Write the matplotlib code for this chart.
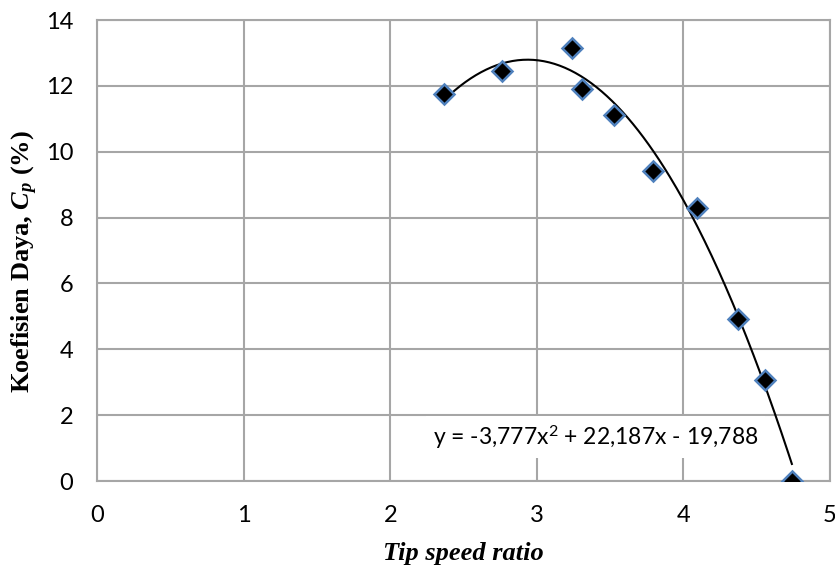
import matplotlib
matplotlib.use("Agg")
import matplotlib.pyplot as plt
import numpy as np

plt.rcParams['font.family'] = ['Lato', 'DejaVu Sans']
plt.rcParams['mathtext.fontset'] = 'custom'
plt.rcParams['mathtext.bfit'] = 'Liberation Serif:bold:italic'
plt.rcParams['mathtext.it'] = 'Liberation Serif:italic'
plt.rcParams['mathtext.rm'] = 'Lato'

# data
tsr = [2.37, 2.76, 3.24, 3.31, 3.53, 3.79, 4.09, 4.37, 4.56, 4.74]
cp = [11.75, 12.45, 13.15, 11.92, 11.12, 9.40, 8.30, 4.93, 3.08, 0.0]
# trendline coefficients as printed on the chart (a, b, c)
trend = [-3.777, 22.187, -19.788]

xticks = [0, 1, 2, 3, 4, 5]
yticks = [0, 2, 4, 6, 8, 10, 12, 14]

grid_col = '#A6A6A6'

fig = plt.figure(figsize=(8.35, 5.70), dpi=100)
ax = fig.add_axes([0.1162, 0.1561, 0.994 - 0.1162, 0.9649 - 0.1561])

# trendline over the data range
xs = np.linspace(min(tsr), max(tsr), 200)
ax.plot(xs, np.polyval(trend, xs), color='black', lw=1.5, zorder=3)

ax.plot(tsr, cp, linestyle='none', marker='D', markersize=10.5,
        markerfacecolor='black', markeredgecolor='#4F81BD',
        markeredgewidth=1.8, zorder=4)

ax.set_xlim(0, 5)
ax.set_ylim(0, 14)
ax.set_xticks(xticks)
ax.set_yticks(yticks)
ax.grid(True, color=grid_col, lw=1.5)
ax.set_axisbelow(True)
for s in ax.spines.values():
    s.set_color(grid_col)
    s.set_linewidth(1.5)
ax.tick_params(axis='both', length=0, labelsize=17)
ax.tick_params(axis='x', pad=17)
ax.tick_params(axis='y', pad=17)

ax.set_xlabel('Tip speed ratio', fontfamily='Liberation Serif',
              fontweight='bold', fontstyle='italic', fontsize=19, labelpad=12)
ax.set_ylabel(r'Koefisien Daya, $\mathbfit{C_p}$ (%)',
              fontfamily='Liberation Serif', fontweight='bold', fontsize=19)
ax.yaxis.set_label_coords(-0.078, 0.475)

eq = 'y = -3,777x$^2$ + 22,187x - 19,788'
ax.text(3.40, 1.34, eq, ha='center', va='center', fontsize=16.5,
        zorder=5, bbox=dict(facecolor='white', edgecolor='none', pad=5))

fig.savefig('out.png', dpi=100)
